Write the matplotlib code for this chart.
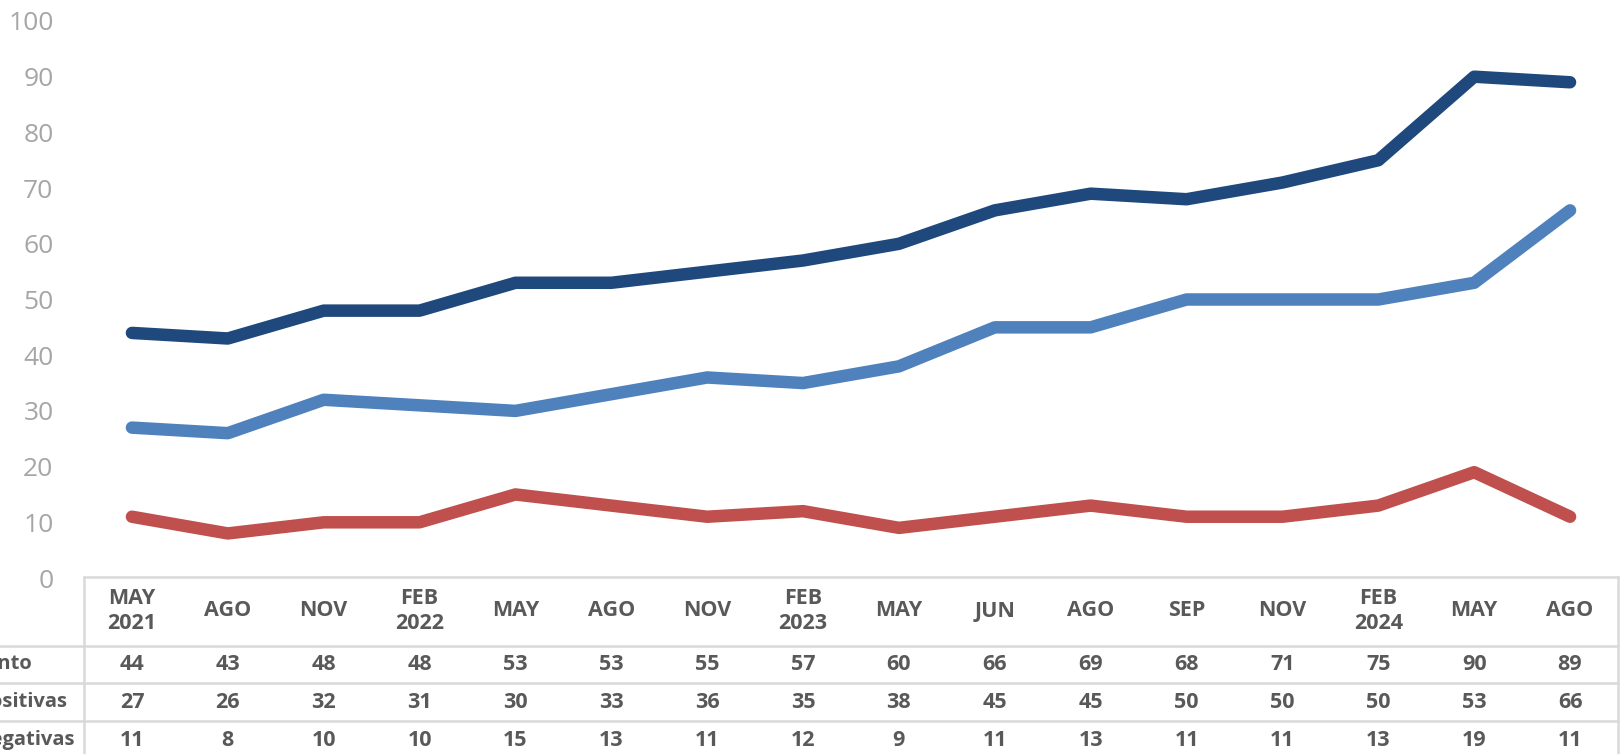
import matplotlib
matplotlib.use("Agg")
import matplotlib.pyplot as plt
from matplotlib.lines import Line2D
from matplotlib.transforms import blended_transform_factory

# ---- data ----
periods = ["MAY\n2021", "AGO", "NOV", "FEB\n2022", "MAY", "AGO", "NOV", "FEB\n2023",
           "MAY", "JUN", "AGO", "SEP", "NOV", "FEB\n2024", "MAY", "AGO"]
conocimiento = [44, 43, 48, 48, 53, 53, 55, 57, 60, 66, 69, 68, 71, 75, 90, 89]
positivas = [27, 26, 32, 31, 30, 33, 36, 35, 38, 45, 45, 50, 50, 50, 53, 66]
negativas = [11, 8, 10, 10, 15, 13, 11, 12, 9, 11, 13, 11, 11, 13, 19, 11]
row_labels = ["Conocimiento", "Opiniones positivas", "Opiniones negativas"]
yticks = [0, 10, 20, 30, 40, 50, 60, 70, 80, 90, 100]

W, H = 1624, 754
plt.rcParams['font.family'] = ['Open Sans', 'DejaVu Sans']
fig = plt.figure(figsize=(W / 100, H / 100), dpi=100)

def fx(px):
    return px / W

def fy(py):
    return 1 - py / H

ax_left, ax_right, ax_top, ax_bot = 84, 1618, 21, 578
ax = fig.add_axes([fx(ax_left), fy(ax_bot), fx(ax_right - ax_left), (ax_bot - ax_top) / H])

colors = ["#1F497D", "#4F81BD", "#C0504D"]
series = [conocimiento, positivas, negativas]
x = list(range(len(periods)))
for s, c in zip(series, colors):
    ax.plot(x, s, color=c, lw=9, solid_capstyle="round", solid_joinstyle="round", clip_on=False)

ax.set_xlim(-0.5, len(periods) - 0.5)
ax.set_ylim(0, 100)
ax.set_yticks(yticks)
ax.set_yticklabels([str(v) for v in yticks])
ax.set_xticks([])
for sp in ax.spines.values():
    sp.set_visible(False)
ax.tick_params(axis="y", length=0, pad=22, labelsize=19, labelcolor="#A6A6A6")

# ---- data table ----
gc = "#D9D9D9"
lw = 1.8
def hline(x0, x1, y):
    fig.add_artist(Line2D([fx(x0), fx(x1)], [fy(y), fy(y)], color=gc, lw=lw))
def vline(x0, y0, y1):
    fig.add_artist(Line2D([fx(x0), fx(x0)], [fy(y0), fy(y1)], color=gc, lw=lw))

hline(ax_left, ax_right, 577)
for yy in [646, 683, 721]:
    hline(0, ax_right, yy)
vline(ax_left, 577, 760)
vline(ax_right, 577, 760)

tr = blended_transform_factory(ax.transData, fig.transFigure)
tc = "#595959"
fs = 15.5
for i, lab in enumerate(periods):
    ax.text(i, fy(611), lab, transform=tr, ha="center", va="center", fontsize=fs,
            fontweight="bold", color=tc, linespacing=1.2)
row_y = [664, 702, 740]
row_right = [33, 67, 74]
for r, (vals, yy) in enumerate(zip(series, row_y)):
    for i, v in enumerate(vals):
        ax.text(i, fy(yy), str(v), transform=tr, ha="center", va="center", fontsize=fs,
                fontweight="bold", color=tc)
    fig.text(fx(row_right[r]), fy(yy), row_labels[r], ha="right", va="center",
             fontsize=14.5, fontweight="bold", color=tc)

fig.savefig("out.png", dpi=100)
